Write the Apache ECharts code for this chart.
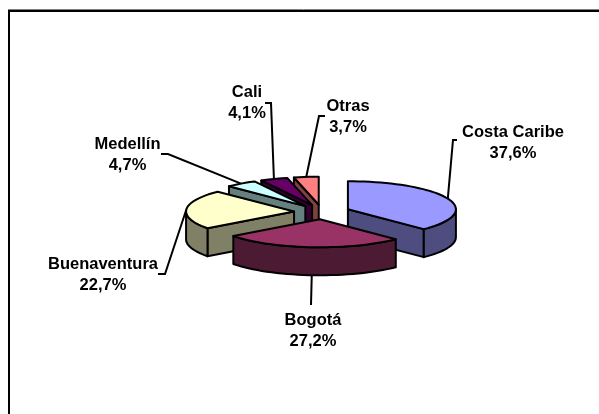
<!DOCTYPE html>
<html>
<head>
<meta charset="utf-8">
<style>html,body{margin:0;padding:0;background:#fff}#c{width:599px;height:414px}</style>
<script src="https://cdn.jsdelivr.net/npm/echarts@6/dist/echarts.min.js"></script>
</head>
<body>
<div id="c"></div>
<script>
const categories = ['Costa Caribe', 'Bogotá', 'Buenaventura', 'Medellín', 'Cali', 'Otras'];
const values = [37.6, 27.2, 22.7, 4.7, 4.1, 3.7];
const valueLabels = ['37,6%', '27,2%', '22,7%', '4,7%', '4,1%', '3,7%'];
const topColors = ['#9999FF', '#993366', '#FFFFCC', '#CCFFFF', '#660066', '#FF8080'];
const sideColors = ['#4D4D80', '#4D1A33', '#808066', '#668080', '#330033', '#804040'];
const paintOrder = [5, 4, 3, 2, 0, 1];

// Pie projection
const CX = 322, CY = 212, RX = 108, RY = 28, DEPTH = 28, EX = 28, EY = 7.3;
// Label centre and leader hook of each slice
const labelLayout = [
  {x: 513, y: 132, hx: 457, hy: 140, ex: 453},
  {x: 313, y: 320, hx: null, hy: 305, ex: 311},
  {x: 103, y: 264, hx: 158, hy: 274, ex: 165},
  {x: 127.5, y: 144, hx: 161, hy: 154, ex: 168},
  {x: 247, y: 92, hx: 265, hy: 103, ex: 271},
  {x: 348, y: 106, hx: 325, hy: 116, ex: 319}
];
const total = values.reduce((a, b) => a + b, 0);
const rad = d => d * Math.PI / 180;
const starts = [];
values.reduce((acc, v, i) => { starts[i] = acc; return acc + v / total * 360; }, 0);

const FONT = '"Liberation Sans", Arial, sans-serif';
const LINE = {stroke: '#000', lineWidth: 2, lineJoin: 'round'};

function renderSlice(params, api) {
  const i = paintOrder[params.dataIndex];
  const a0 = starts[i], a1 = a0 + values[i] / total * 360, mid = (a0 + a1) / 2;
  const ax = CX + EX * Math.sin(rad(mid)), ay = CY - EY * Math.cos(rad(mid));
  const rim = (a, dz) => [ax + RX * Math.sin(rad(a)), ay - RY * Math.cos(rad(a)) + (dz || 0)];
  const arc = (from, to, dz) => {
    const pts = [], n = Math.max(2, Math.ceil(Math.abs(to - from) / 3));
    for (let k = 0; k <= n; k++) pts.push(rim(from + (to - from) * k / n, dz));
    return pts;
  };
  const children = [];
  const poly = (points, fill) => children.push({type: 'polygon', shape: {points}, style: Object.assign({fill}, LINE)});
  const side = sideColors[i];
  // Cut faces that look towards the viewer
  const cuts = [];
  if (a1 > 0 && a1 < 180) cuts.push(a1);
  if (a0 > 180) cuts.push(a0);
  cuts.forEach(a => {
    const r = rim(a);
    poly([[ax, ay], r, [r[0], r[1] + DEPTH], [ax, ay + DEPTH]], side);
  });
  // Outer wall: only the part on the near half of the ellipse
  const wFrom = Math.max(a0, 90), wTo = Math.min(a1, 270);
  if (wTo > wFrom) {
    poly(arc(wFrom, wTo).concat(arc(wTo, wFrom, DEPTH)), side);
  }
  // Top
  poly([[ax, ay]].concat(arc(a0, a1)), topColors[i]);
  // Leader
  const L = labelLayout[i];
  const onFront = Math.abs(mid - 180) < 60;
  const anchor = rim(mid, onFront ? DEPTH : 0);
  const leadPts = (L.hx === null ? [] : [[L.hx, L.hy]]).concat([[L.ex, L.hy], anchor]);
  children.push({type: 'polyline', shape: {points: leadPts}, style: {stroke: '#000', lineWidth: 2, fill: null}});
  // Label
  [categories[i], valueLabels[i]].forEach((t, k) => children.push({
    type: 'text',
    style: {text: t, x: L.x, y: L.y + k * 21.5, align: 'center', verticalAlign: 'middle',
            fill: '#000', font: 'bold 16.5px ' + FONT}
  }));
  return {type: 'group', children};
}

const chart = echarts.init(document.getElementById('c'), null, {renderer: 'canvas'});
chart.setOption({
  animation: false,
  backgroundColor: '#fff',
  graphic: [
    {type: 'line', shape: {x1: 8, y1: 9.5, x2: 599, y2: 9.5}, style: {stroke: '#808080', lineWidth: 1}},
    {type: 'line', shape: {x1: 8, y1: 11, x2: 599, y2: 11}, style: {stroke: '#000', lineWidth: 2}},
    {type: 'line', shape: {x1: 9, y1: 10, x2: 9, y2: 414}, style: {stroke: '#000', lineWidth: 2}}
  ],
  series: [{
    type: 'custom',
    coordinateSystem: 'none',
    renderItem: renderSlice,
    data: paintOrder.map(i => ({name: categories[i], value: values[i]})),
    silent: true,
    z: 2
  }]
});
</script>
</body>
</html>
